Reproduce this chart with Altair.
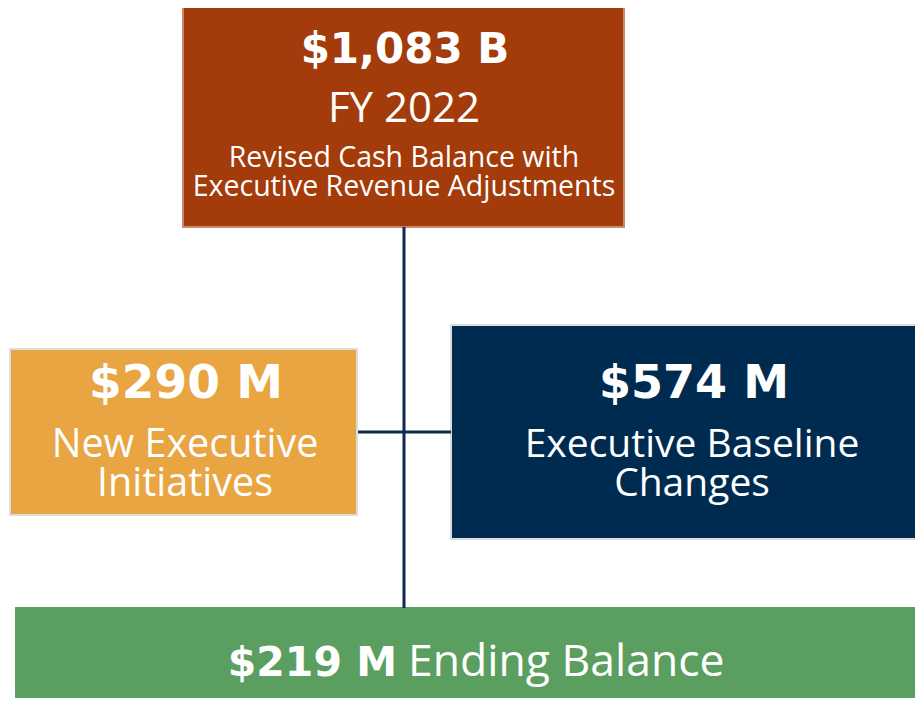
import altair as alt
import pandas as pd

# ---- content ----
amounts = ["$1,083 B", "$290 M", "$574 M", "$219 M"]
subtitles = [
    ["FY 2022"],
    ["New Executive", "Initiatives"],
    ["Executive Baseline", "Changes"],
    ["Ending Balance"],
]
notes = ["Revised Cash Balance with", "Executive Revenue Adjustments"]

# ---- layout (page pixel coordinates) ----
box_x1 = [183, 10, 451, 16]
box_x2 = [624, 357, 930, 930]
box_y1 = [7, 349, 325, 608]
box_y2 = [227, 515, 539, 712]
box_fill = ["#A33B0A", "#E8A541", "#002B51", "#5A9F60"]
box_stroke = ["#C98A6A", "#DDDDDD", "#DDDDDD", "#5A9F60"]

BOLD_FONT = "DejaVu Sans"
REG_FONT = "Open Sans"

W, H = 907, 690
xs = alt.Scale(domain=[8, 8 + W], range=[0, W])
ys = alt.Scale(domain=[8, 8 + H], range=[0, H])

boxes = pd.DataFrame({
    "x1": box_x1, "x2": box_x2, "y1": box_y1, "y2": box_y2,
    "fill": box_fill, "stroke": box_stroke,
})

rects = alt.Chart(boxes).mark_rect(strokeWidth=2, clip=False).encode(
    x=alt.X("x1:Q", scale=xs, axis=None),
    x2="x2:Q",
    y=alt.Y("y1:Q", scale=ys, axis=None),
    y2="y2:Q",
    fill=alt.Fill("fill:N", scale=None),
    stroke=alt.Stroke("stroke:N", scale=None),
)

lines = pd.DataFrame({
    "x1": [404, 358], "x2": [404, 451],
    "y1": [227, 432], "y2": [608, 432],
})
connectors = alt.Chart(lines).mark_rule(color="#0B2B4F", strokeWidth=3).encode(
    x=alt.X("x1:Q", scale=xs, axis=None), x2="x2:Q",
    y=alt.Y("y1:Q", scale=ys, axis=None), y2="y2:Q",
)

# bold amount labels
bold_df = pd.DataFrame({
    "t": amounts[:3],
    "x": [405, 186, 694],
    "y": [63, 398, 398],
    "s": [42, 47, 46],
})
bold = alt.Chart(bold_df).mark_text(
    font=BOLD_FONT, fontWeight="bold", color="white", baseline="alphabetic", align="center"
).encode(
    x=alt.X("x:Q", scale=xs, axis=None),
    y=alt.Y("y:Q", scale=ys, axis=None),
    text="t:N",
    size=alt.Size("s:Q", scale=None),
)

reg_rows = []
reg_rows.append((subtitles[0][0], 404, 122, 42))
reg_rows.append((notes[0], 404, 167, 28.5))
reg_rows.append((notes[1], 404, 196, 28.5))
reg_rows.append((subtitles[1][0], 185, 457, 39.5))
reg_rows.append((subtitles[1][1], 185, 496, 39.5))
reg_rows.append((subtitles[2][0], 692, 457, 39))
reg_rows.append((subtitles[2][1], 692, 496, 39))
reg_df = pd.DataFrame(reg_rows, columns=["t", "x", "y", "s"])
regular = alt.Chart(reg_df).mark_text(
    font=REG_FONT, fontWeight=400, color="white", baseline="alphabetic", align="center"
).encode(
    x=alt.X("x:Q", scale=xs, axis=None),
    y=alt.Y("y:Q", scale=ys, axis=None),
    text="t:N",
    size=alt.Size("s:Q", scale=None),
)

end_bold = alt.Chart(pd.DataFrame({"t": [amounts[3]], "x": [397], "y": [676]})).mark_text(
    font=BOLD_FONT, fontWeight="bold", color="white", baseline="alphabetic", align="right", fontSize=41
).encode(
    x=alt.X("x:Q", scale=xs, axis=None), y=alt.Y("y:Q", scale=ys, axis=None), text="t:N"
)
end_reg = alt.Chart(pd.DataFrame({"t": [subtitles[3][0]], "x": [408], "y": [676]})).mark_text(
    font=REG_FONT, fontWeight=400, color="white", baseline="alphabetic", align="left", fontSize=44.5
).encode(
    x=alt.X("x:Q", scale=xs, axis=None), y=alt.Y("y:Q", scale=ys, axis=None), text="t:N"
)

chart = alt.layer(rects, connectors, bold, regular, end_bold, end_reg).properties(
    width=W, height=H, padding=0, autosize=alt.AutoSizeParams(type="none")
).configure_view(stroke=None)

chart.save("out.html", embed_options={"renderer": "svg", "actions": False})
